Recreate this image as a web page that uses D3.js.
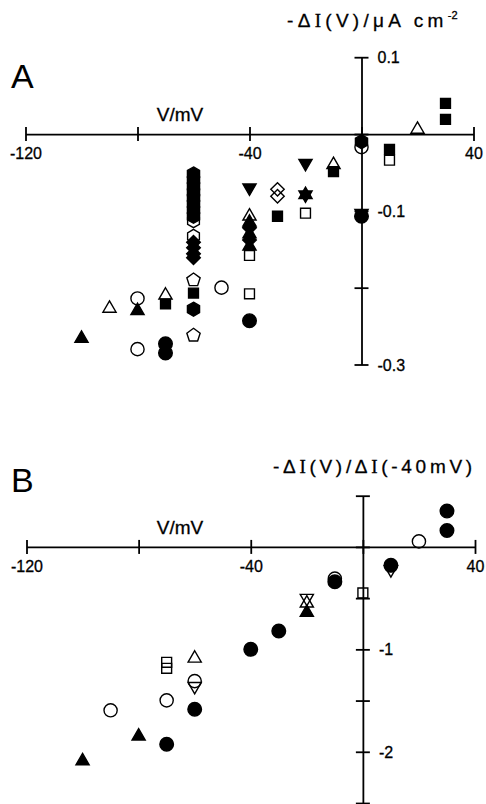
<!DOCTYPE html>
<html>
<head>
<meta charset="utf-8">
<script src="https://cdn.jsdelivr.net/npm/d3@7"></script>
<style>
  body { margin: 0; background: #fff; }
  svg { display: block; font-family: Arial, "Liberation Sans", sans-serif; }
</style>
</head>
<body>
<div id="viz"></div>
<script>
// ---- data (V in mV, response) ----
var xTicks = [-120, -80, -40, 0, 40];
var xTickLabels = ["-120", "", "-40", "", "40"];
var yTicksA = [0.1, 0, -0.1, -0.2, -0.3];
var yTickLabelsA = ["0.1", "", "-0.1", "", "-0.3"];
var yTicksB = [0.5, 0, -0.5, -1, -1.5, -2, -2.5];
var yTickLabelsB = ["", "", "", "-1", "", "-2", ""];

// panel A: -dI(V) / uA cm-2
var aOpenCircle = [[-50, -0.200], [-80, -0.214], [-80, -0.280], [0, -0.017]];
var aOpenTriUp = [[-70, -0.210], [-90, -0.227], [-40, -0.107], [-10, -0.040], [20, 0.006]];
var aOpenSquare = [[-40, -0.158], [-40, -0.208], [-20, -0.103], [10, -0.034]];
var aOpenHex = [[-60, -0.113], [-60, -0.133]];
var aOpenDiamond = [[-30, -0.072], [-30, -0.081]];
var aOpenPent = [[-60, -0.190], [-60, -0.262]];
var aFillCircle = [[-40, -0.243], [-70, -0.273], [-70, -0.285], [0, -0.107]];
var aFillTriUp = [[-80, -0.230], [-100, -0.266], [-40, -0.115], [-40, -0.130], [-40, -0.146], [-20, -0.079]];
var aFillTriDown = [[-40, -0.070], [-20, -0.038], [-20, -0.079], [0, -0.103]];
var aFillSquare = [[-70, -0.221], [-60, -0.207], [-30, -0.107], [-10, -0.049], [10, -0.020], [30, 0.040], [30, 0.019]];
var aFillHex = [[-60, -0.052], [-60, -0.060], [-60, -0.068], [-60, -0.076], [-60, -0.083], [-60, -0.091],
                [-60, -0.099], [-60, -0.107], [-60, -0.228], [0, -0.010]];
var aFillDiamond = [[-60, -0.141], [-60, -0.148], [-60, -0.156], [-60, -0.161], [-40, -0.122], [-40, -0.138]];

// panel B: -dI(V) / dI(-40 mV)
var bOpenCircle = [[-10, -0.31], [20, 0.054], [-60, -1.31], [-70, -1.498], [-90, -1.595]];
var bOpenTriUp = [[-20, -0.55], [-60, -1.088]];
var bOpenTriDown = [[-20, -0.50], [-60, -1.36], [10, -0.22]];
var bOpenSquare = [[0, -0.45], [-70, -1.127], [-70, -1.185]];
var bFillCircle = [[-40, -1.0], [-30, -0.821], [-10, -0.34], [10, -0.18], [30, 0.35], [30, 0.16],
                   [-60, -1.585], [-70, -1.927]];
var bFillTriUp = [[-20, -0.64], [-80, -1.849], [-100, -2.09]];

// ---- marker shapes (size = radius^2) ----
function poly(n, rot) {
    return { draw: function(c, size) {
        var r = Math.sqrt(size);
        for (var i = 0; i < n; i++) {
            var a = rot + i * 2 * Math.PI / n;
            if (i) c.lineTo(r * Math.cos(a), r * Math.sin(a));
            else c.moveTo(r * Math.cos(a), r * Math.sin(a));
        }
        c.closePath();
    }};
}
var circ = { draw: function(c, size) { var r = Math.sqrt(size); c.moveTo(r, 0); c.arc(0, 0, r, 0, 2 * Math.PI); } };
var triUp = poly(3, -Math.PI / 2), triDown = poly(3, Math.PI / 2),
    square = poly(4, Math.PI / 4), diamond = poly(4, -Math.PI / 2),
    pent = poly(5, -Math.PI / 2), hex = poly(6, -Math.PI / 2);

var W = 486, H = 804;
var svg = d3.select("#viz").append("svg").attr("width", W).attr("height", H);

function panel(p) {
    var x = d3.scaleLinear().domain([-120, 40]).range(p.xr);
    var y = d3.scaleLinear().domain(p.yd).range(p.yr);
    var g = svg.append("g");

    // x axis
    var gx = g.append("g").attr("transform", "translate(0," + y(0) + ")")
        .call(d3.axisBottom(x).tickValues(xTicks).tickSizeOuter(0)
            .tickFormat(function(d, i) { return xTickLabels[i]; }));
    gx.selectAll(".tick line").attr("y1", -7).attr("y2", 7);
    gx.selectAll(".tick text").attr("y", 25).attr("dy", 0).attr("font-size", 16);

    // y axis
    var gy = g.append("g").attr("transform", "translate(" + x(0) + ",0)")
        .call(d3.axisRight(y).tickValues(p.yt).tickSizeOuter(0)
            .tickFormat(function(d, i) { return p.yl[i]; }));
    gy.selectAll(".tick line").attr("x1", -7).attr("x2", 7);
    gy.selectAll(".tick text").attr("x", 16).attr("dy", "0.35em").attr("font-size", 16)
        .attr("text-anchor", "start");
    g.selectAll(".domain, .tick line").attr("stroke", "#000").attr("stroke-width", 1.8);
    g.selectAll(".tick text").attr("fill", "#000").attr("font-family", "Arial, 'Liberation Sans', sans-serif")
        .attr("stroke", "#000").attr("stroke-width", 0.3);

    g.append("text").attr("x", 180).attr("y", y(0) - 13).attr("text-anchor", "middle")
        .attr("font-size", 19).attr("stroke", "#000").attr("stroke-width", 0.3).text("V/mV");
    g.append("text").attr("x", 11).attr("y", p.letterY).attr("font-size", 34).text(p.letter);

    // axis title: the "I" is set in a serif face as in the original
    var t = g.append("text").attr("x", p.titleX).attr("y", p.titleY)
        .attr("font-size", 19).attr("letter-spacing", p.ls)
        .attr("stroke", "#000").attr("stroke-width", 0.3);
    p.title.split("|").forEach(function(part, i) {
        if (i % 2) t.append("tspan").attr("font-family", "'Liberation Serif', 'Times New Roman', serif").text(part);
        else t.append("tspan").text(part);
    });
    if (p.sup) t.append("tspan").attr("dy", -8).attr("font-size", 11).attr("letter-spacing", 0).text(p.sup);

    // open symbols first, filled on top
    p.series.forEach(function(s) {
        g.append("g").selectAll("path").data(s.data).enter().append("path")
            .attr("transform", function(d) { return "translate(" + x(d[0]) + "," + y(d[1]) + ")"; })
            .attr("d", d3.symbol().type(s.type).size(s.r * s.r))
            .attr("fill", s.fill ? "#000" : "none")
            .attr("stroke", "#000").attr("stroke-width", 1.4);
    });
}

panel({
    xr: [25.5, 473.5], yd: [0.1, -0.3], yr: [57.2, 364.5],
    yt: yTicksA, yl: yTickLabelsA,
    letter: "A", letterY: 88, title: "-\u0394|I|(V)/\u03bcA cm", sup: "-2", titleX: 287, titleY: 27, ls: 4.3,
    series: [
        { data: aOpenCircle, type: circ, r: 6.6 },
        { data: aOpenTriUp, type: triUp, r: 7.6 },
        { data: aOpenSquare, type: square, r: 7 },
        { data: aOpenHex, type: hex, r: 6.8 },
        { data: aOpenDiamond, type: diamond, r: 6.7 },
        { data: aOpenPent, type: pent, r: 7 },
        { data: aFillCircle, type: circ, r: 6.8, fill: true },
        { data: aFillTriUp, type: triUp, r: 7.6, fill: true },
        { data: aFillTriDown, type: triDown, r: 7.6, fill: true },
        { data: aFillSquare, type: square, r: 7, fill: true },
        { data: aFillHex, type: hex, r: 7, fill: true },
        { data: aFillDiamond, type: diamond, r: 6.8, fill: true }
    ]
});

panel({
    xr: [26.5, 475], yd: [0.5, -2.5], yr: [495.7, 803],
    yt: yTicksB, yl: yTickLabelsB,
    letter: "B", letterY: 492, title: "-\u0394|I|(V)/\u0394|I|(-40mV)", titleX: 273, titleY: 473, ls: 3.7,
    series: [
        { data: bOpenCircle, type: circ, r: 6.6 },
        { data: bOpenTriUp, type: triUp, r: 7.6 },
        { data: bOpenTriDown, type: triDown, r: 7.6 },
        { data: bOpenSquare, type: square, r: 7 },
        { data: bFillCircle, type: circ, r: 6.8, fill: true },
        { data: bFillTriUp, type: triUp, r: 7.6, fill: true }
    ]
});
</script>
</body>
</html>
